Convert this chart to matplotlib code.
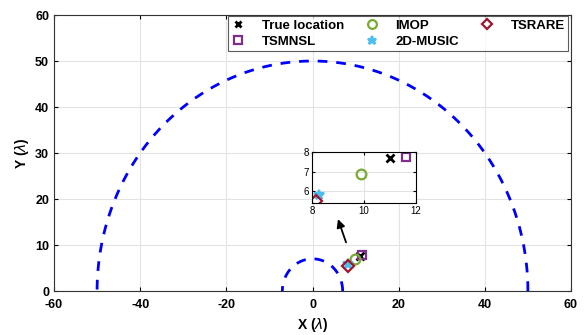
import numpy as np
import matplotlib
matplotlib.use('Agg')
import matplotlib.pyplot as plt

plt.rcParams['font.family'] = 'Liberation Sans'
plt.rcParams['axes.unicode_minus'] = False

# estimated positions (in wavelengths)
true_loc = (11.0, 7.7)
imop = (9.9, 6.9)
tsrare = (8.15, 5.5)
tsmnsl = (11.6, 7.75)
music2d = (8.25, 5.8)
radii = [50, 7]

fig = plt.figure(figsize=(5.85, 3.35), dpi=100)
ax = fig.add_axes([54/585, 1-291/335, 517/585, 276/335])

th = np.linspace(0, np.pi, 400)
for r in radii:
    ax.plot(r*np.cos(th), r*np.sin(th), '--', color='blue', lw=2, dashes=(3.5, 3.2))

def draw_pts(a, ms, mew):
    a.plot(*true_loc, 'x', color='k', ms=ms*0.75, mew=mew+0.4, label='True location', ls='none')
    a.plot(*tsmnsl, 's', mfc='none', mec='#7E2F8E', ms=ms*0.85, mew=mew, label='TSMNSL', ls='none')
    a.plot(*imop, 'o', mfc='none', mec='#77AC30', ms=ms, mew=mew, label='IMOP', ls='none')
    a.plot(*music2d, '*', color='#4DBEEE', ms=ms, mew=mew, label='2D-MUSIC', ls='none')
    a.plot(*tsrare, 'D', mfc='none', mec='#A2142F', ms=ms*0.85, mew=mew, label='TSRARE', ls='none')

draw_pts(ax, 7, 1.6)

ax.set_xlim(-60, 60)
ax.set_ylim(0, 60)
ax.set_xticks(np.arange(-60, 61, 20))
ax.set_yticks(np.arange(0, 61, 10))
ax.grid(True, color='#e3e3e3', lw=0.8)
ax.set_axisbelow(True)
ax.tick_params(direction='in', labelsize=9, top=True, right=True, length=3)
ax.tick_params(axis='x', pad=6)
for lb in ax.get_xticklabels() + ax.get_yticklabels():
    lb.set_fontweight('bold')
ax.set_xlabel(r'X ($\lambda$)', fontsize=10, fontweight='bold', labelpad=3)
ax.set_ylabel(r'Y ($\lambda$)', fontsize=10, fontweight='bold', labelpad=3)
for s in ax.spines.values():
    s.set_color('#333333')

leg = ax.legend(ncol=3, loc='upper right', bbox_to_anchor=(1.002, 1.01),
                prop={'weight': 'bold', 'size': 9.5}, frameon=True, fancybox=False,
                edgecolor='#333333', handlelength=1.0, columnspacing=1.6,
                handletextpad=1.3, borderpad=0.25, labelspacing=0.3, markerscale=0.9,
                borderaxespad=0.3)
leg.get_frame().set_linewidth(0.8)

ax.annotate('', xy=(5.7, 16.2), xytext=(8.0, 10.0),
            arrowprops=dict(arrowstyle='-|>', color='k', lw=1.3, mutation_scale=12))

ins = fig.add_axes([312/585, 1-203/335, 104/585, 51/335])
draw_pts(ins, 7, 1.6)
ins.set_xlim(8, 12)
ins.set_ylim(5.4, 8)
ins.set_xticks([8, 10, 12])
ins.set_yticks([6, 7, 8])
ins.grid(True, color='#e3e3e3', lw=0.8)
ins.tick_params(direction='in', labelsize=7, top=True, right=True, length=2, pad=2)

fig.savefig('out.png', dpi=100)
